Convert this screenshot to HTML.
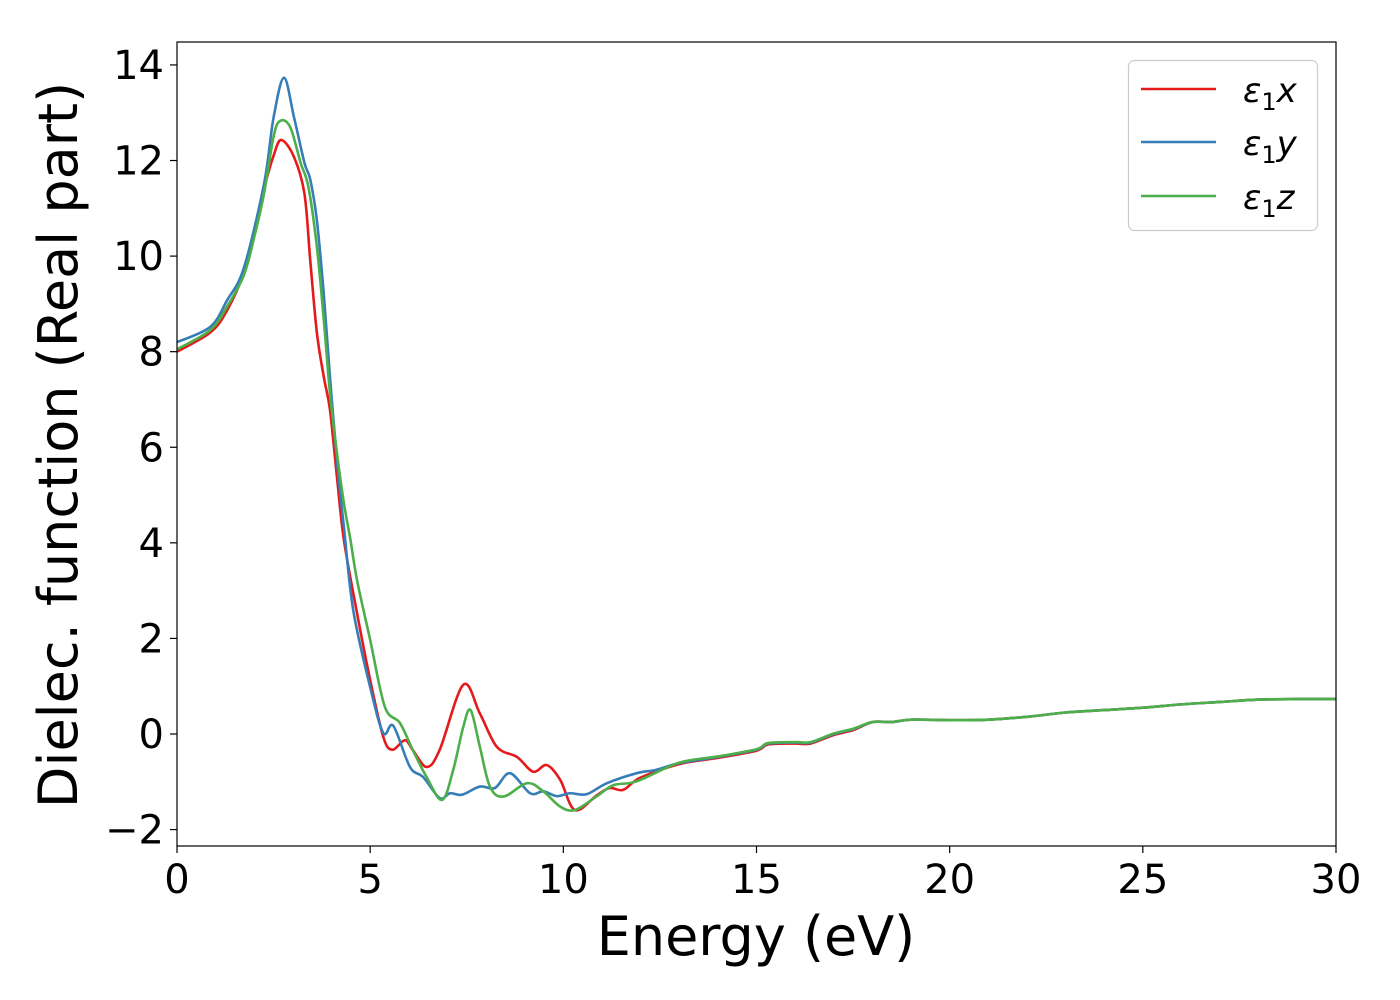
<!DOCTYPE html>
<html><head><meta charset="utf-8"><style>
html,body{margin:0;padding:0;background:#fff;}
svg{display:block;font-family:"DejaVu Sans","Liberation Sans",sans-serif;}
</style></head><body>
<svg id="chart" width="1400" height="1000" viewBox="0 0 1400 1000" xmlns="http://www.w3.org/2000/svg">
<rect x="0" y="0" width="1400" height="1000" fill="#fff"/>
<g id="series"></g>
<rect x="177" y="42" width="1159" height="804" fill="none" stroke="#000" stroke-width="1.2"/>
<g id="xticks"></g><g id="yticks"></g>
<text x="756" y="955" font-size="54" text-anchor="middle">Energy (eV)</text>
<text transform="translate(77,445) rotate(-90)" font-size="54" text-anchor="middle">Dielec. function (Real part)</text>
<g>
<rect x="1128.5" y="60.5" width="189" height="170" rx="6" fill="#fff" fill-opacity="0.8" stroke="#ccc" stroke-width="1.2"/>
<line x1="1141" y1="89" x2="1216" y2="89" stroke="#e41a1c" stroke-width="2.6"/>
<line x1="1141" y1="142" x2="1216" y2="142" stroke="#377eb8" stroke-width="2.6"/>
<line x1="1141" y1="196" x2="1216" y2="196" stroke="#4daf4a" stroke-width="2.6"/>
<text x="1243" y="102" font-size="34" font-style="italic">ε<tspan font-style="normal" font-size="24" dy="8">1</tspan><tspan dy="-8">x</tspan></text>
<text x="1243" y="155" font-size="34" font-style="italic">ε<tspan font-style="normal" font-size="24" dy="8">1</tspan><tspan dy="-8">y</tspan></text>
<text x="1243" y="209" font-size="34" font-style="italic">ε<tspan font-style="normal" font-size="24" dy="8">1</tspan><tspan dy="-8">z</tspan></text>
</g>
</svg>
<script>
const xTickLabels=[0,5,10,15,20,25,30];
const yTickLabels=[-2,0,2,4,6,8,10,12,14];
const tail=[[13,-0.61],[14,-0.48],[15,-0.33],[15.3,-0.2],[16,-0.18],[16.4,-0.18],[17,0.0],[17.5,0.1],[18,0.25],[18.5,0.25],[19,0.3],[20,0.29],[21,0.3],[22,0.36],[23,0.45],[24,0.5],[25,0.55],[26,0.62],[27,0.67],[28,0.72],[29,0.73],[30,0.73]];
const seriesX=[[0,8.0],[0.86,8.4],[1.3,8.87],[1.73,9.65],[2.0,10.5],[2.25,11.4],[2.5,12.1],[2.7,12.43],[3.03,12.07],[3.3,11.3],[3.45,9.9],[3.62,8.4],[3.8,7.47],[3.96,6.78],[4.14,5.38],[4.32,4.06],[4.66,2.53],[5.0,1.13],[5.34,-0.06],[5.57,-0.33],[5.9,-0.13],[6.1,-0.33],[6.46,-0.69],[6.8,-0.33],[7.41,1.03],[7.84,0.43],[8.28,-0.27],[8.8,-0.48],[9.22,-0.79],[9.57,-0.65],[9.92,-0.96],[10.3,-1.59],[10.87,-1.28],[11.2,-1.13],[11.55,-1.17],[11.98,-0.92]];
const seriesY=[[0,8.2],[0.86,8.52],[1.3,9.08],[1.73,9.75],[2.25,11.5],[2.5,12.9],[2.77,13.73],[3.03,12.9],[3.3,11.95],[3.45,11.6],[3.62,10.75],[3.8,9.2],[3.96,7.47],[4.14,5.73],[4.32,4.33],[4.56,2.6],[5.0,0.98],[5.34,0.02],[5.6,0.17],[6.03,-0.69],[6.37,-0.9],[6.8,-1.34],[7.07,-1.24],[7.38,-1.27],[7.84,-1.1],[8.23,-1.13],[8.62,-0.82],[9.14,-1.24],[9.48,-1.2],[9.83,-1.3],[10.17,-1.24],[10.6,-1.26],[11.13,-1.03],[11.9,-0.82],[12.4,-0.75]];
const seriesZ=[[0,8.05],[0.86,8.45],[1.3,8.95],[1.73,9.6],[2.0,10.4],[2.25,11.3],[2.5,12.5],[2.67,12.83],[2.93,12.7],[3.2,11.95],[3.4,11.45],[3.62,10.2],[3.8,8.66],[3.96,7.13],[4.14,5.88],[4.32,4.83],[4.49,4.06],[4.66,3.22],[5.0,1.97],[5.38,0.57],[5.77,0.23],[6.1,-0.33],[6.46,-0.9],[6.86,-1.38],[7.15,-0.75],[7.41,0.15],[7.6,0.5],[7.84,-0.27],[8.1,-1.1],[8.45,-1.31],[9.06,-1.03],[9.48,-1.2],[9.92,-1.52],[10.3,-1.59],[10.87,-1.3],[11.3,-1.07],[11.9,-0.99]];
const NS="http://www.w3.org/2000/svg";
const X0=177,X1=1336,Y0val=0,Ypx0=734,Yscale=47.79;
function xs(e){return X0+(e/30)*(X1-X0);}
function ys(v){return Ypx0-v*Yscale;}
function pathFor(pts){
  const p=pts.map(d=>[xs(d[0]),ys(d[1])]);
  let s="M"+p[0][0].toFixed(2)+","+p[0][1].toFixed(2);
  for(let i=0;i<p.length-1;i++){
    const a=p[Math.max(i-1,0)],b=p[i],c=p[i+1],d=p[Math.min(i+2,p.length-1)];
    const c1=[b[0]+(c[0]-a[0])/6,b[1]+(c[1]-a[1])/6];
    const c2=[c[0]-(d[0]-b[0])/6,c[1]-(d[1]-b[1])/6];
    s+="C"+c1[0].toFixed(2)+","+c1[1].toFixed(2)+" "+c2[0].toFixed(2)+","+c2[1].toFixed(2)+" "+c[0].toFixed(2)+","+c[1].toFixed(2);
  }
  return s;
}
const g=document.getElementById("series");
const defs=[[seriesX,"#e41a1c","series-eps1-x"],[seriesY,"#377eb8","series-eps1-y"],[seriesZ,"#4daf4a","series-eps1-z"]];
defs.forEach(([pts,col,name],k)=>{
  const off=(k===0?-0.02:(k===1?0.0:0.01));
  const full=pts.concat(tail.map(t=>[t[0],t[1]+(t[0]<18?off:0)]));
  const el=document.createElementNS(NS,"path");
  el.setAttribute("d",pathFor(full));
  el.setAttribute("fill","none");
  el.setAttribute("stroke",col);
  el.setAttribute("stroke-width","2.6");
  el.setAttribute("stroke-linejoin","round");
  
  
  g.appendChild(el);
});
const xt=document.getElementById("xticks");
xTickLabels.forEach(v=>{
  const x=xs(v);
  const l=document.createElementNS(NS,"line");
  l.setAttribute("x1",x);l.setAttribute("x2",x);l.setAttribute("y1",846);l.setAttribute("y2",853);
  l.setAttribute("stroke","#000");l.setAttribute("stroke-width","1.2");
  
  
  xt.appendChild(l);
  const t=document.createElementNS(NS,"text");
  t.setAttribute("x",x);t.setAttribute("y",893);t.setAttribute("font-size","40");t.setAttribute("text-anchor","middle");
  t.textContent=String(v);
  
  
  xt.appendChild(t);
});
const yt=document.getElementById("yticks");
yTickLabels.forEach(v=>{
  const y=ys(v);
  const l=document.createElementNS(NS,"line");
  l.setAttribute("x1",170);l.setAttribute("x2",177);l.setAttribute("y1",y);l.setAttribute("y2",y);
  l.setAttribute("stroke","#000");l.setAttribute("stroke-width","1.2");
  
  
  yt.appendChild(l);
  const t=document.createElementNS(NS,"text");
  t.setAttribute("x",164);t.setAttribute("y",y+14);t.setAttribute("font-size","40");t.setAttribute("text-anchor","end");
  t.textContent=v<0?"\u2212"+Math.abs(v):String(v);
  
  
  yt.appendChild(t);
});
</script>
</body></html>
